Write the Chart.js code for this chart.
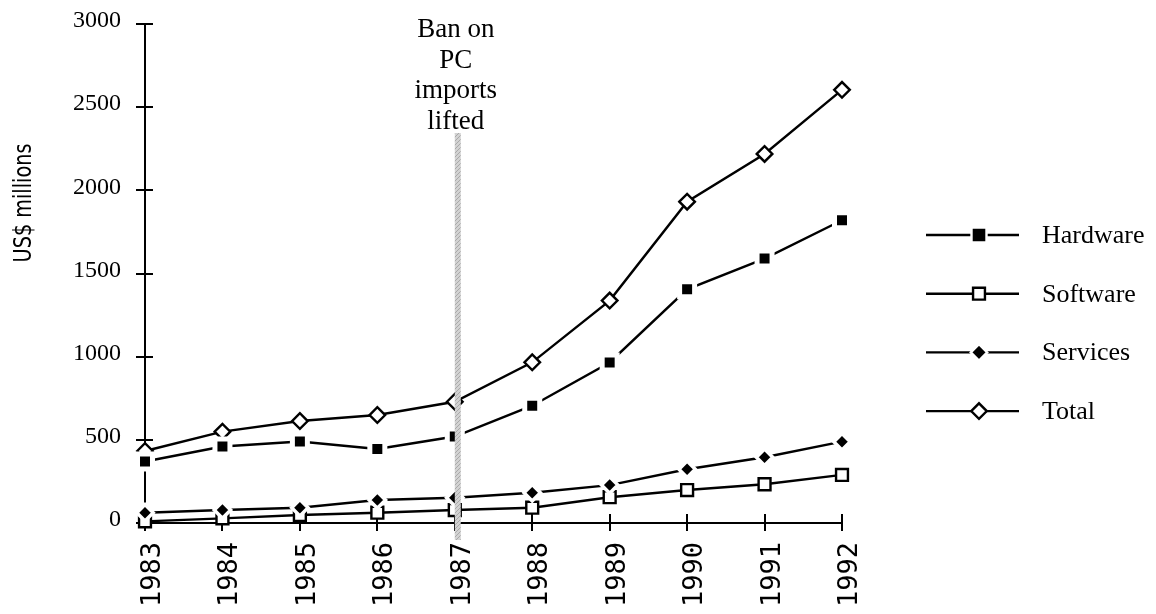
<!DOCTYPE html>
<html>
<head>
<meta charset="utf-8">
<title>Computer market 1983-1992</title>
<script src="https://cdn.jsdelivr.net/npm/chart.js@4.4.1/dist/chart.umd.min.js"></script>
<style>
  html, body { margin: 0; padding: 0; background: #fff; }
  #wrap { width: 1156px; height: 614px; }
</style>
</head>
<body>
<div id="wrap"><canvas id="marketChart" width="1156" height="614"></canvas></div>
<script>
// ---- values, US$ millions ----
const years = ['1983', '1984', '1985', '1986', '1987', '1988', '1989', '1990', '1991', '1992'];
const hardware = [370, 460, 490, 445, 520, 705, 965, 1405, 1590, 1820];
const software = [10, 28, 48, 62, 78, 92, 155, 198, 233, 289];
const services = [62, 78, 92, 138, 152, 182, 228, 323, 395, 489];
const total = [433, 549, 613, 649, 729, 966, 1337, 1932, 2219, 2604];
const seriesNames = ['Hardware', 'Software', 'Services', 'Total'];
const yMax = 3000;
const yStep = 500;
const yTitle = 'US$ millions';
const banYear = '1987';
const banNote = ['Ban on', 'PC', 'imports', 'lifted'];

const serif = "'Liberation Serif', 'Times New Roman', serif";

// little grey hatch used for the "ban lifted" bar
function hatch() {
    const c = document.createElement('canvas');
    c.width = 4; c.height = 4;
    const g = c.getContext('2d');
    g.fillStyle = '#d2d2d2';
    g.fillRect(0, 0, 4, 4);
    g.fillStyle = '#a9a9a9';
    for (let i = 0; i < 4; i++) g.fillRect(i, 3 - i, 1, 1);
    return g.createPattern(c, 'repeat');
}

// ======================== extra drawing ========================
const axisTicks = {
    id: 'axisTicks',
    beforeDatasetsDraw(chart) {
        const ctx = chart.ctx, xs = chart.scales.x, ys = chart.scales.y;
        ctx.save();
        ctx.strokeStyle = '#000';
        ctx.lineWidth = 2;
        ctx.beginPath();
        ys.ticks.forEach((t, i) => {
            const py = Math.round(ys.getPixelForTick(i));
            ctx.moveTo(xs.left - 9, py);
            ctx.lineTo(xs.left + 8, py);
        });
        xs.ticks.forEach((t, i) => {
            const px = Math.round(xs.getPixelForTick(i));
            ctx.moveTo(px, ys.bottom - 9);
            ctx.lineTo(px, ys.bottom + 8);
        });
        ctx.stroke();

        // rotated y title
        ctx.fillStyle = '#000';
        ctx.font = "25px 'DejaVu Sans'";
        ctx.textAlign = 'center';
        ctx.textBaseline = 'middle';
        ctx.translate(24, 203);
        ctx.rotate(-Math.PI / 2);
        ctx.scale(0.77, 1);
        ctx.fillText(yTitle, 0, 0);
        ctx.restore();
    }
};

const banMarker = {
    id: 'banMarker',
    afterDatasetsDraw(chart) {
        const ctx = chart.ctx, xs = chart.scales.x, ys = chart.scales.y;
        const cx = xs.getPixelForValue(years.indexOf(banYear)) + 3;
        ctx.save();
        ctx.fillStyle = hatch();
        ctx.fillRect(cx - 3, 133, 6, ys.bottom + 17 - 133);
        ctx.fillStyle = '#000';
        ctx.font = '27px ' + serif;
        ctx.textAlign = 'center';
        ctx.textBaseline = 'alphabetic';
        banNote.forEach((line, i) => ctx.fillText(line, cx - 2, 37 + i * 30.5));
        ctx.restore();
    }
};

const sideLegend = {
    id: 'sideLegend',
    afterDraw(chart) {
        const ctx = chart.ctx;
        ctx.save();
        chart.data.datasets.forEach((ds, i) => {
            const y = 235 + i * 58.7;
            ctx.strokeStyle = '#000';
            ctx.lineWidth = 2.4;
            ctx.beginPath();
            ctx.moveTo(926, y);
            ctx.lineTo(1019, y);
            ctx.stroke();
            ctx.fillStyle = ds.pointBackgroundColor;
            ctx.strokeStyle = ds.pointBorderColor;
            Chart.helpers.drawPoint(ctx, {
                pointStyle: ds.pointStyle,
                radius: ds.pointRadius,
                rotation: 0,
                borderWidth: ds.pointBorderWidth
            }, 979, y);
            ctx.fillStyle = '#000';
            ctx.font = '26px ' + serif;
            ctx.textAlign = 'left';
            ctx.textBaseline = 'middle';
            ctx.fillText(ds.label, 1042, y + 1);
        });
        ctx.restore();
    }
};

// ======================== chart ========================
function series(label, data, style, radius, fill, edge, edgeWidth, order) {
    return {
        label: label,
        data: data,
        order: order,
        borderColor: '#000',
        borderWidth: 2.4,
        tension: 0,
        clip: false,
        pointStyle: style,
        pointRadius: radius,
        pointHoverRadius: radius,
        pointBackgroundColor: fill,
        pointBorderColor: edge,
        pointBorderWidth: edgeWidth
    };
}

let ctx = document.getElementById('marketChart').getContext('2d');

let marketChart = new Chart(ctx, {
    type: 'line',
    data: {
        labels: years,
        datasets: [
            series(seriesNames[0], hardware, 'rect', 10.6, '#000', '#fff', 5, 0),
            series(seriesNames[1], software, 'rect', 8.4, '#fff', '#000', 2.4, 2),
            series(seriesNames[2], services, 'rectRot', 8.2, '#000', '#fff', 3.5, 1),
            series(seriesNames[3], total, 'rectRot', 7.8, '#fff', '#000', 2.4, 3)
        ]
    },
    options: {
        responsive: false,
        animation: false,
        devicePixelRatio: 1,
        layout: { padding: { left: 0, top: 24, right: 314, bottom: 0 } },
        plugins: {
            legend: { display: false },
            tooltip: { enabled: false }
        },
        scales: {
            x: {
                type: 'category',
                offset: false,
                grid: { display: false, drawTicks: false },
                border: { display: true, color: '#000', width: 2 },
                ticks: {
                    color: '#000',
                    font: { family: "'DejaVu Sans Mono', monospace", size: 27 },
                    minRotation: 90,
                    maxRotation: 90,
                    padding: 19,
                    labelOffset: 8,
                    autoSkip: false
                },
                afterFit(scale) {
                    scale.height = 91;
                    scale.paddingLeft = 0;
                    scale.paddingRight = 0;
                }
            },
            y: {
                min: 0,
                max: yMax,
                grid: { display: false, drawTicks: false },
                border: { display: true, color: '#000', width: 2 },
                ticks: {
                    stepSize: yStep,
                    color: '#000',
                    font: { family: serif, size: 24 },
                    padding: 24,
                    labelOffset: -3,
                    callback: (v) => String(v)
                },
                afterFit(scale) {
                    scale.width = 145;
                    scale.paddingTop = 0;
                    scale.paddingBottom = 0;
                }
            }
        }
    },
    plugins: [axisTicks, banMarker, sideLegend]
});
</script>
</body>
</html>
